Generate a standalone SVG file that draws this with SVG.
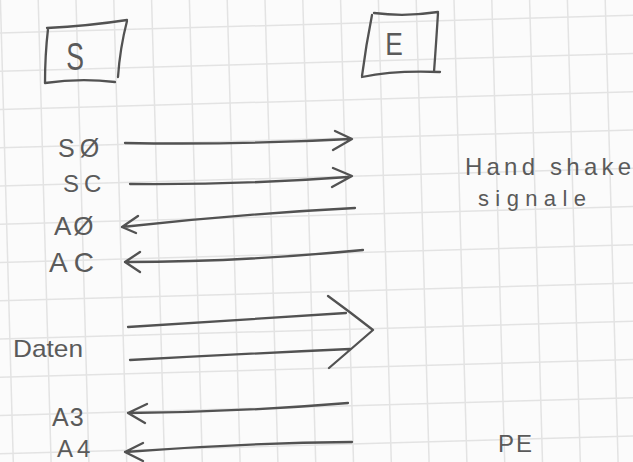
<svg xmlns="http://www.w3.org/2000/svg" width="633" height="462" viewBox="0 0 633 462">
<style>
.grid line{stroke:#e3e3e3;stroke-width:1.5}
.pen{fill:none;stroke:#525252;stroke-width:2.3;stroke-linecap:round;stroke-linejoin:round}
.txt{font-family:"Liberation Sans","DejaVu Sans",sans-serif;fill:#5a5a5a}
</style>
<rect width="633" height="462" fill="#fbfbfb"/>
<g class="grid">
<line x1="0" y1="-5.2" x2="633" y2="-22.9"/>
<line x1="0" y1="33" x2="633" y2="15.3"/>
<line x1="0" y1="71.3" x2="633" y2="53.6"/>
<line x1="0" y1="109.5" x2="633" y2="91.8"/>
<line x1="0" y1="147.8" x2="633" y2="130.1"/>
<line x1="0" y1="186" x2="633" y2="168.3"/>
<line x1="0" y1="224.3" x2="633" y2="206.6"/>
<line x1="0" y1="262.5" x2="633" y2="244.8"/>
<line x1="0" y1="300.8" x2="633" y2="283.1"/>
<line x1="0" y1="339" x2="633" y2="321.3"/>
<line x1="0" y1="377.3" x2="633" y2="359.6"/>
<line x1="0" y1="415.5" x2="633" y2="397.8"/>
<line x1="0" y1="453.8" x2="633" y2="436.1"/>
<line x1="0" y1="492" x2="633" y2="474.3"/>
<line x1="0.4" y1="0" x2="13.3" y2="462"/>
<line x1="38.2" y1="0" x2="51.1" y2="462"/>
<line x1="76" y1="0" x2="88.9" y2="462"/>
<line x1="113.8" y1="0" x2="126.7" y2="462"/>
<line x1="151.6" y1="0" x2="164.5" y2="462"/>
<line x1="189.4" y1="0" x2="202.3" y2="462"/>
<line x1="227.2" y1="0" x2="240.1" y2="462"/>
<line x1="265" y1="0" x2="277.9" y2="462"/>
<line x1="302.8" y1="0" x2="315.7" y2="462"/>
<line x1="340.6" y1="0" x2="353.5" y2="462"/>
<line x1="378.4" y1="0" x2="391.3" y2="462"/>
<line x1="416.2" y1="0" x2="429.1" y2="462"/>
<line x1="454" y1="0" x2="466.9" y2="462"/>
<line x1="491.8" y1="0" x2="504.7" y2="462"/>
<line x1="529.6" y1="0" x2="542.5" y2="462"/>
<line x1="567.4" y1="0" x2="580.3" y2="462"/>
<line x1="605.2" y1="0" x2="618.1" y2="462"/>
</g>
<g id="node-S">
<path class="pen" d="M47,28 Q88,26 127,20 M127,21 Q120,48 118,77 M45,83 Q80,78 115,82 M48,29 Q45,55 45,83"/>
<text class="txt" font-size="38" text-anchor="middle" transform="translate(75,70) scale(0.7,1)">S</text>
</g>
<g id="node-E">
<path class="pen" d="M374,13 Q405,17 438,12 M438,13 Q436,45 434,72 M362,77 Q395,70 440,72 M372,15 Q366,45 362,76"/>
<text class="txt" font-size="31" text-anchor="middle" transform="translate(394,55) scale(0.85,1)">E</text>
</g>
<g id="labels" class="txt">
<text x="58" y="157" font-size="25" letter-spacing="5">SØ</text>
<text x="63" y="192" font-size="24" letter-spacing="5">SC</text>
<text x="54" y="235" font-size="26" letter-spacing="2">AØ</text>
<text x="49" y="272" font-size="28" letter-spacing="6">AC</text>
<text x="13" y="357" font-size="24" textLength="70" lengthAdjust="spacingAndGlyphs">Daten</text>
<text x="52" y="426" font-size="25" letter-spacing="1">A3</text>
<text x="57" y="457" font-size="24" letter-spacing="4">A4</text>
<text x="465" y="175" font-size="24" textLength="166" lengthAdjust="spacing">Hand shake</text>
<text x="478" y="206" font-size="22" textLength="108" lengthAdjust="spacing">signale</text>
<text x="498" y="452" font-size="24" letter-spacing="2">PE</text>
</g>
<g id="connectors" class="pen">
<path d="M125,143 Q240,145 350,139 M335,131 L352,139 L333,150"/>
<path d="M130,184 Q240,185 348,177 M333,168 L352,176 L332,187"/>
<path d="M355,208 Q240,214 122,227 M138,216 L122,227 L136,233"/>
<path d="M363,250 Q240,262 125,262 M140,252 L125,262 L140,272"/>
<path d="M128,327 Q240,320 346,313 M130,360 Q240,354 350,349 M328,296 Q350,312 373,330 Q350,350 329,368"/>
<path d="M348,403 Q240,412 128,413 M147,404 L128,413 L145,423"/>
<path d="M352,442 Q240,443 125,452 M143,443 L125,452 L143,461"/>
</g>
</svg>
